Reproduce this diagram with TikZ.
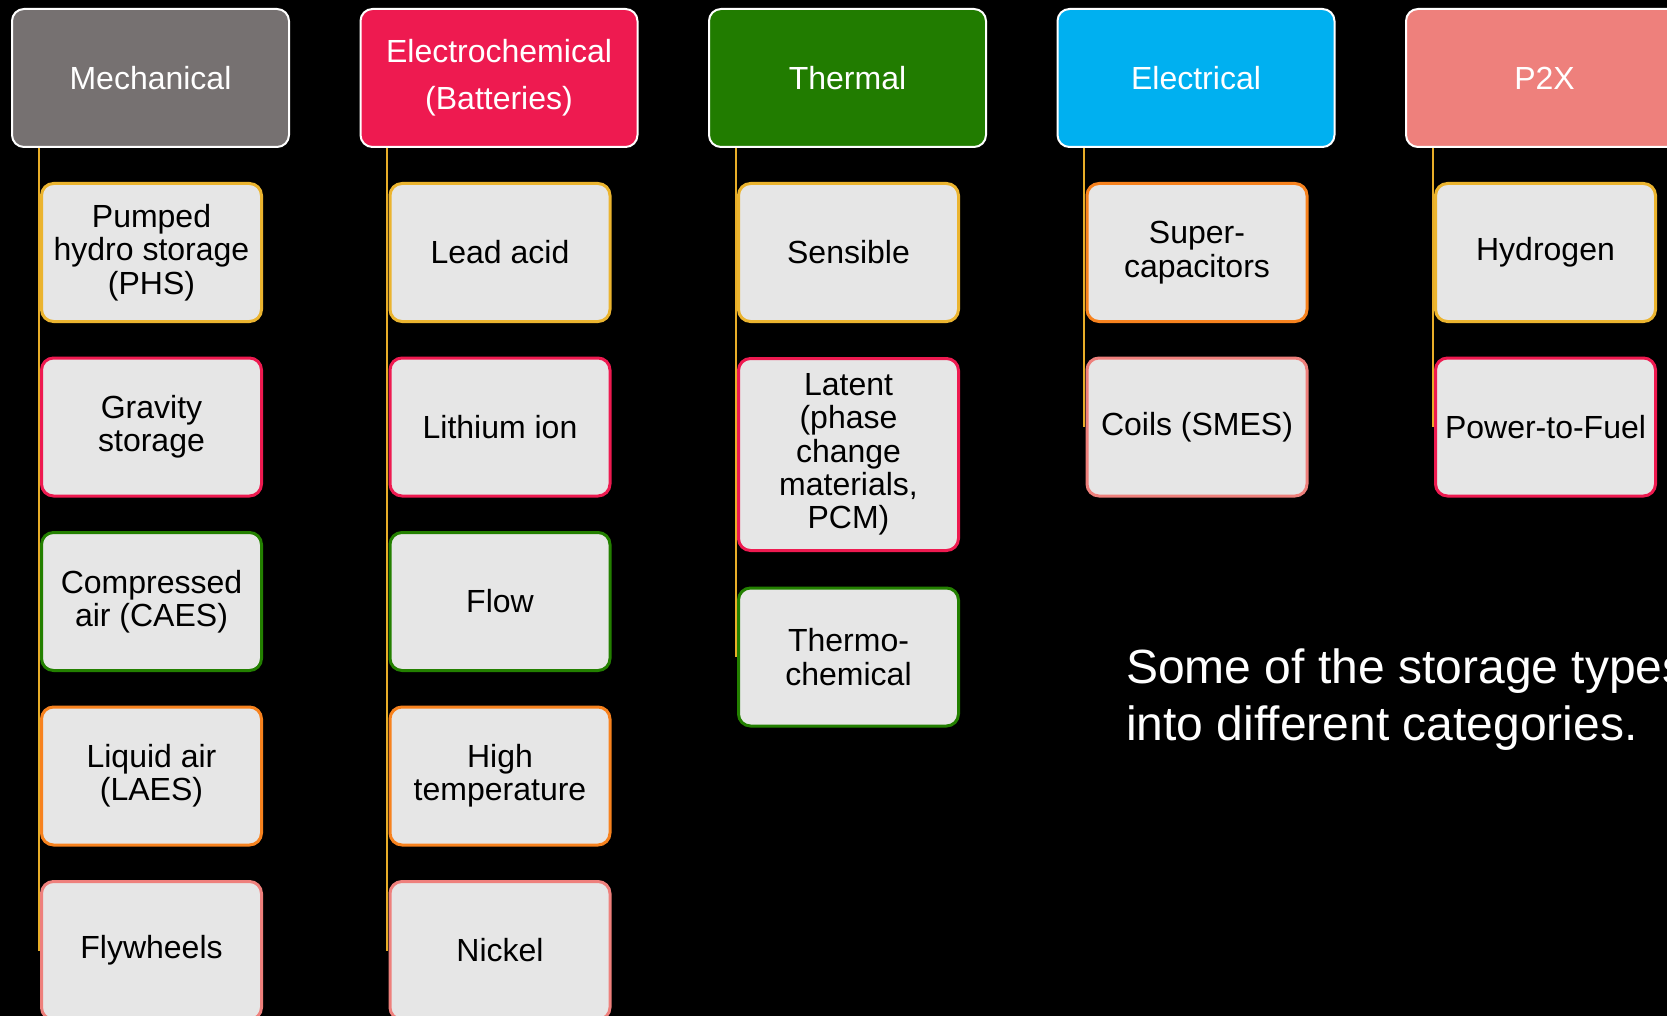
\documentclass[tikz,border=0pt]{standalone}
\usepackage{fontspec}
\setmainfont{Liberation Sans}
\usetikzlibrary{calc}

\definecolor{mechGray}{HTML}{767171}
\definecolor{echemRed}{HTML}{EE1A50}
\definecolor{thermGreen}{HTML}{217C00}
\definecolor{elecBlue}{HTML}{00B0F0}
\definecolor{ptxSalmon}{HTML}{EE807C}
\definecolor{boxGray}{HTML}{E6E6E6}
\definecolor{edgeGold}{HTML}{EBB42F}
\definecolor{edgeCrimson}{HTML}{EE1A50}
\definecolor{edgeGreen}{HTML}{238000}
\definecolor{edgeOrange}{HTML}{F7821E}
\definecolor{edgeSalmon}{HTML}{EE807C}
\definecolor{connGold}{HTML}{E8AE28}

\pgfdeclarelayer{bg}
\pgfdeclarelayer{lines}
\pgfsetlayers{bg,lines,main}

\tikzset{
  hdr/.style={draw=white, fill=#1, line width=2pt, rounded corners=12pt,
    minimum width=277pt, minimum height=138pt, inner sep=0pt,
    text=white, align=center, font=\fontsize{32}{47}\selectfont},
  leaf/.style={draw=#1, fill=boxGray, line width=3pt, rounded corners=12pt,
    minimum width=220pt, minimum height=138pt, inner sep=0pt,
    text=black, align=center, font=\fontsize{32}{33.3}\selectfont},
  conn/.style={draw=connGold, line width=2pt},
  caption/.style={text=white, align=left, inner sep=0pt,
    font=\fontsize{48}{57}\selectfont}
}

\begin{document}
\begin{tikzpicture}[x=1pt, y=-1pt]
\useasboundingbox (0,0) rectangle (1667,1016);
\begin{pgfonlayer}{bg}
  \fill[black] (0,0) rectangle (1667,1016);
\end{pgfonlayer}

% category headers
\node[hdr=mechGray]   (h0) at (150.5,78)  {Mechanical};
\node[hdr=echemRed]   (h1) at (499,78)    {Electrochemical\\(Batteries)};
\node[hdr=thermGreen] (h2) at (847.5,78)  {Thermal};
\node[hdr=elecBlue]   (h3) at (1196,78)   {Electrical};
\node[hdr=ptxSalmon]  (h4) at (1544.5,78) {P2X};

% Mechanical
\node[leaf=edgeGold]    (a1) at (151.5,252.5) {Pumped\\hydro storage\\(PHS)};
\node[leaf=edgeCrimson] (a2) at (151.5,427)   {Gravity\\storage};
\node[leaf=edgeGreen]   (a3) at (151.5,601.5) {Compressed\\air (CAES)};
\node[leaf=edgeOrange]  (a4) at (151.5,776)   {Liquid air\\(LAES)};
\node[leaf=edgeSalmon]  (a5) at (151.5,950.5) {Flywheels};

% Electrochemical
\node[leaf=edgeGold]    (b1) at (500,252.5) {Lead acid};
\node[leaf=edgeCrimson] (b2) at (500,427)   {Lithium ion};
\node[leaf=edgeGreen]   (b3) at (500,601.5) {Flow};
\node[leaf=edgeOrange]  (b4) at (500,776)   {High\\temperature};
\node[leaf=edgeSalmon]  (b5) at (500,950.5) {Nickel};

% Thermal
\node[leaf=edgeGold]    (c1) at (848.5,252.5) {Sensible};
\node[leaf=edgeCrimson, minimum height=192pt] (c2) at (848.5,454.5)
  {Latent\\(phase\\change\\materials,\\PCM)};
\node[leaf=edgeGreen]   (c3) at (848.5,657) {Thermo-\\chemical};

% Electrical
\node[leaf=edgeOrange]  (d1) at (1197,252.5) {Super-\\capacitors};
\node[leaf=edgeSalmon]  (d2) at (1197,427)   {Coils (SMES)};

% P2X
\node[leaf=edgeGold]    (e1) at (1545.5,252.5) {Hydrogen};
\node[leaf=edgeCrimson] (e2) at (1545.5,427)   {Power-to-Fuel};

% connectors from each header down the left side of its items
\begin{pgfonlayer}{lines}
  \foreach \h/\c in {h0/a1,h0/a2,h0/a3,h0/a4,h0/a5,
                     h1/b1,h1/b2,h1/b3,h1/b4,h1/b5,
                     h2/c1,h2/c2,h2/c3,
                     h3/d1,h3/d2,
                     h4/e1,h4/e2}
    \draw[conn] ([xshift=-1.5pt]\h.south -| \c.west) -- ([xshift=-1.5pt]\c.west);
\end{pgfonlayer}

\node[caption, anchor=north west] (note) at (1126,649)
  {Some of the storage types\\into different categories.};
\end{tikzpicture}
\end{document}
